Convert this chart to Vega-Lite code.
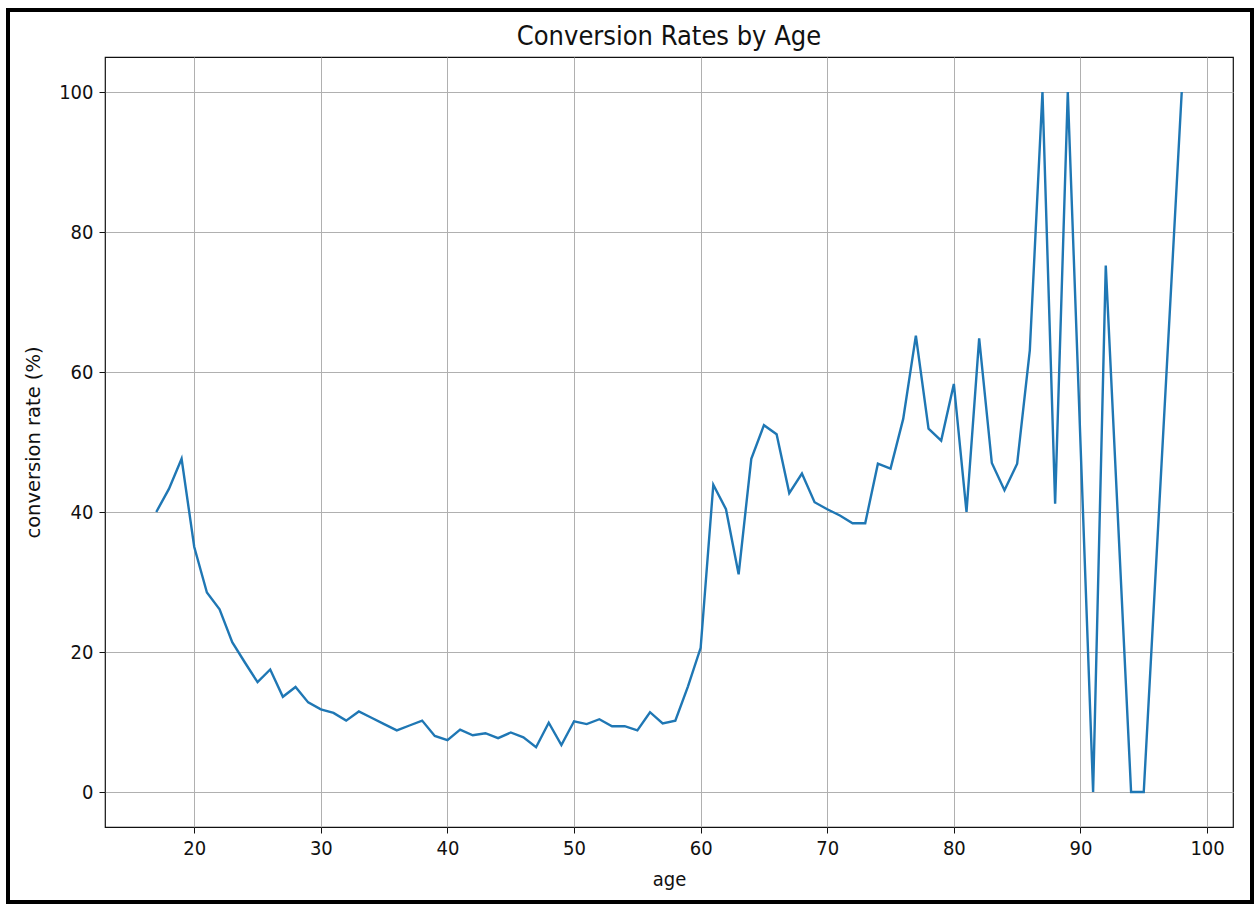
{
  "$schema": "https://vega.github.io/schema/vega-lite/v6.json",
  "width": 1128,
  "height": 770,
  "autosize": {"type": "none"},
  "padding": {"left": 105, "top": 57, "right": 25, "bottom": 77},
  "background": "white",
  "config": {
    "font": "DejaVu Sans Condensed",
    "view": {"stroke": "#111", "strokeWidth": 1.2}
  },
  "title": {
    "text": "Conversion Rates by Age",
    "font": "DejaVu Sans Condensed",
    "fontSize": 27,
    "fontWeight": "normal",
    "color": "#111",
    "baseline": "alphabetic",
    "offset": 0,
    "dy": 63
  },
  "data": {
    "values": [
      {"age": 17, "conversion_rate": 40.0},
      {"age": 18, "conversion_rate": 43.3},
      {"age": 19, "conversion_rate": 47.6},
      {"age": 20, "conversion_rate": 35.0},
      {"age": 21, "conversion_rate": 28.5},
      {"age": 22, "conversion_rate": 26.1},
      {"age": 23, "conversion_rate": 21.4},
      {"age": 24, "conversion_rate": 18.5},
      {"age": 25, "conversion_rate": 15.7},
      {"age": 26, "conversion_rate": 17.5},
      {"age": 27, "conversion_rate": 13.6},
      {"age": 28, "conversion_rate": 15.0},
      {"age": 29, "conversion_rate": 12.8},
      {"age": 30, "conversion_rate": 11.8},
      {"age": 31, "conversion_rate": 11.3},
      {"age": 32, "conversion_rate": 10.2},
      {"age": 33, "conversion_rate": 11.5},
      {"age": 34, "conversion_rate": 10.6},
      {"age": 35, "conversion_rate": 9.7},
      {"age": 36, "conversion_rate": 8.8},
      {"age": 37, "conversion_rate": 9.5},
      {"age": 38, "conversion_rate": 10.2},
      {"age": 39, "conversion_rate": 8.0},
      {"age": 40, "conversion_rate": 7.4},
      {"age": 41, "conversion_rate": 8.9},
      {"age": 42, "conversion_rate": 8.1},
      {"age": 43, "conversion_rate": 8.4},
      {"age": 44, "conversion_rate": 7.7},
      {"age": 45, "conversion_rate": 8.5},
      {"age": 46, "conversion_rate": 7.8},
      {"age": 47, "conversion_rate": 6.4},
      {"age": 48, "conversion_rate": 9.9},
      {"age": 49, "conversion_rate": 6.7},
      {"age": 50, "conversion_rate": 10.1},
      {"age": 51, "conversion_rate": 9.7},
      {"age": 52, "conversion_rate": 10.4},
      {"age": 53, "conversion_rate": 9.4},
      {"age": 54, "conversion_rate": 9.4},
      {"age": 55, "conversion_rate": 8.8},
      {"age": 56, "conversion_rate": 11.4},
      {"age": 57, "conversion_rate": 9.8},
      {"age": 58, "conversion_rate": 10.2},
      {"age": 59, "conversion_rate": 15.1},
      {"age": 60, "conversion_rate": 20.6},
      {"age": 61, "conversion_rate": 43.9},
      {"age": 62, "conversion_rate": 40.4},
      {"age": 63, "conversion_rate": 31.1},
      {"age": 64, "conversion_rate": 47.6},
      {"age": 65, "conversion_rate": 52.4},
      {"age": 66, "conversion_rate": 51.1},
      {"age": 67, "conversion_rate": 42.7},
      {"age": 68, "conversion_rate": 45.5},
      {"age": 69, "conversion_rate": 41.4},
      {"age": 70, "conversion_rate": 40.4},
      {"age": 71, "conversion_rate": 39.5},
      {"age": 72, "conversion_rate": 38.4},
      {"age": 73, "conversion_rate": 38.4},
      {"age": 74, "conversion_rate": 46.9},
      {"age": 75, "conversion_rate": 46.2},
      {"age": 76, "conversion_rate": 53.3},
      {"age": 77, "conversion_rate": 65.2},
      {"age": 78, "conversion_rate": 51.9},
      {"age": 79, "conversion_rate": 50.2},
      {"age": 80, "conversion_rate": 58.3},
      {"age": 81, "conversion_rate": 40.0},
      {"age": 82, "conversion_rate": 64.8},
      {"age": 83, "conversion_rate": 47.0},
      {"age": 84, "conversion_rate": 43.1},
      {"age": 85, "conversion_rate": 46.9},
      {"age": 86, "conversion_rate": 63.1},
      {"age": 87, "conversion_rate": 100.0},
      {"age": 88, "conversion_rate": 41.2},
      {"age": 89, "conversion_rate": 100.0},
      {"age": 91, "conversion_rate": 0.0},
      {"age": 92, "conversion_rate": 75.2},
      {"age": 94, "conversion_rate": 0.0},
      {"age": 95, "conversion_rate": 0.0},
      {"age": 98, "conversion_rate": 100.0}
    ]
  },
  "layer": [
    {
      "mark": {"type": "line", "color": "#1f77b4", "strokeWidth": 2.4, "strokeJoin": "miter"},
      "encoding": {
        "x": {
          "field": "age",
          "type": "quantitative",
          "scale": {"domain": [12.95, 102.05], "nice": false, "zero": false},
          "axis": {
            "title": "age",
            "values": [20, 30, 40, 50, 60, 70, 80, 90, 100],
            "grid": true,
            "gridColor": "#b0b0b0",
            "gridWidth": 1,
            "domain": false,
            "ticks": true,
            "tickColor": "#111",
            "tickSize": 6,
            "labelFontSize": 20,
            "labelColor": "#111",
            "labelPadding": 5,
            "titleFontSize": 20,
            "titleFontWeight": "normal",
            "titleColor": "#111",
            "titlePadding": 11
          }
        },
        "y": {
          "field": "conversion_rate",
          "type": "quantitative",
          "scale": {"domain": [-5, 105], "nice": false, "zero": false},
          "axis": {
            "title": "conversion rate (%)",
            "values": [0, 20, 40, 60, 80, 100],
            "grid": true,
            "gridColor": "#b0b0b0",
            "gridWidth": 1,
            "domain": false,
            "ticks": true,
            "tickColor": "#111",
            "tickSize": 6,
            "labelFontSize": 20,
            "labelColor": "#111",
            "labelPadding": 6,
            "titleFont": "DejaVu Sans",
            "titleFontSize": 19.5,
            "titleFontWeight": "normal",
            "titleColor": "#111",
            "titlePadding": 15
          }
        }
      }
    },
    {
      "mark": {"type": "rect", "fillOpacity": 0, "stroke": "#000", "strokeWidth": 3, "clip": false},
      "encoding": {
        "x": {"datum": 5.29, "type": "quantitative"},
        "x2": {"datum": 103.55},
        "y": {"datum": 111.7, "type": "quantitative"},
        "y2": {"datum": -15.7}
      }
    }
  ]
}
